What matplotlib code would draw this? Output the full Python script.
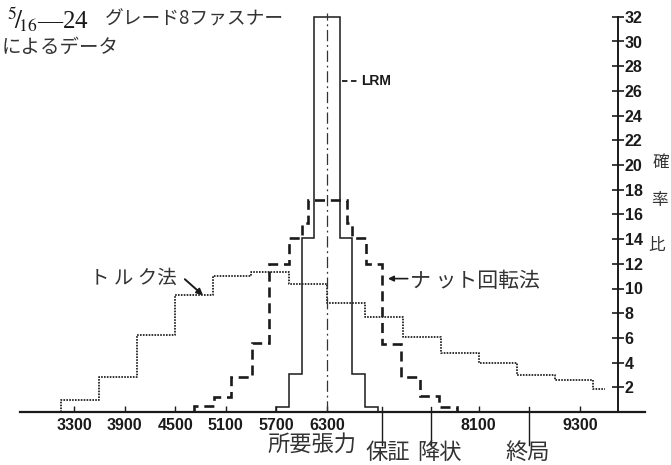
import matplotlib

matplotlib.use("Agg")
import matplotlib.pyplot as plt

W, H = 671, 465

# probability ratio per tension class (lbf), 5/16-24 grade 8
torque_edges = [3150, 3600, 4050, 4500, 4950, 5400, 5850, 6300, 6750, 7200, 7650, 8100, 8550, 9000, 9450, 9600]
torque_ratio = [1.0, 2.8, 6.2, 9.5, 11.0, 11.3, 10.4, 8.8, 7.7, 6.1, 4.8, 4.0, 3.0, 2.6, 1.9]

nut_edges = [4720, 4960, 5160, 5410, 5610, 5850, 6000, 6075, 6535, 6595, 6760, 6950, 7175, 7400, 7625, 7840]
nut_ratio = [0.5, 1.2, 2.8, 5.6, 12.0, 14.1, 15.3, 17.2, 15.3, 14.1, 12.0, 5.5, 2.8, 1.3, 0.4]

lrm_edges = [5700, 5850, 6000, 6150, 6450, 6600, 6750, 6900]
lrm_ratio = [0.4, 3.1, 14.1, 32.0, 14.1, 3.1, 0.4]

required_tension = 6300
x_ticks = [3300, 3900, 4500, 5100, 5700, 6300, 8100, 9300]
y_ticks = list(range(2, 33, 2))
limit_names = ["保証", "降状", "終局"]
limit_values = [6950, 7530, 8690]

INK = "#1a1a1a"
SOFT = "#333333"
CJK = ["Noto Sans CJK JP", "DejaVu Sans"]
SERIF = ["Liberation Serif", "DejaVu Serif"]
NUM = {"family": ["Liberation Sans", "DejaVu Sans"], "weight": "bold", "size": 11.5}

plt.rcParams["mathtext.fontset"] = "stix"


def fpos(x, y):
    return x / W, 1 - y / H


fig = plt.figure(figsize=(W / 100, H / 100), dpi=100)
ax = fig.add_axes([20 / W, 53 / H, 625 / W, 400 / H])
ax.set_xlim(2660, 10071)
ax.set_ylim(0, 400 / 12.35)

for side in ("top", "left"):
    ax.spines[side].set_visible(False)
ax.spines["bottom"].set_linewidth(1.6)
ax.spines["bottom"].set_color(INK)
ax.spines["right"].set_position(("data", 9750))
ax.spines["right"].set_bounds(0, 32)
ax.spines["right"].set_linewidth(1.4)
ax.spines["right"].set_color(INK)

ax.set_xticks(x_ticks)
ax.set_xticklabels([str(v) for v in x_ticks], fontdict=NUM)
ax.set_yticks(y_ticks)
ax.set_yticklabels([str(v) for v in y_ticks], fontdict=NUM)
ax.tick_params(axis="x", direction="in", length=4, width=1.0, pad=4, colors=INK)
ax.tick_params(axis="y", left=False, right=True, labelleft=False, labelright=True,
               direction="inout", length=8, width=1.2, pad=1, colors=INK)

# torque method (dotted), nut rotation (dashed), LRM (solid)
ax.plot([torque_edges[0]] + torque_edges, [0] + torque_ratio + [torque_ratio[-1]],
        drawstyle="steps-post", color="#222222", lw=1.3, ls=(0, (0.9, 0.7)))
ax.stairs(nut_ratio, nut_edges, baseline=0, fill=False, color=INK, lw=1.9,
          linestyle=(0, (3.8, 2.2)))
ax.stairs(lrm_ratio, lrm_edges, baseline=0, fill=False, color=INK, lw=1.1)
ax.plot([required_tension, required_tension], [0, 32.3], color=SOFT, lw=0.9,
        dashes=(9, 3, 1.5, 3))

# LRM tag
ax.plot([6480, 6690], [26.8, 26.8], color=INK, lw=1.3, dashes=(3, 2))
ax.text(6705, 26.8, "LRM", ha="left", va="center", fontsize=10, fontweight="bold",
        family=["Liberation Sans", "DejaVu Sans"], color=INK)

ax.annotate("", xy=(4855, 9.3), xytext=(4590, 10.9),
            arrowprops=dict(arrowstyle="-|>", color=INK, lw=1.4, mutation_scale=9))
ax.text(4010, 10.8, "ト ル ク法", ha="center", va="center", fontsize=14, family=CJK, color=SOFT)

ax.annotate("", xy=(6990, 10.8), xytext=(7290, 10.8),
            arrowprops=dict(arrowstyle="-|>", color=INK, lw=1.2, mutation_scale=8))
ax.text(7285, 10.6, "ナ ット回転法", ha="left", va="center", fontsize=15, family=CJK, color=SOFT)

# strength limits below the axis
for name, val, shift in zip(limit_names, limit_values, [70, 110, -10]):
    ax.plot([val, val], [0.4, -2.7], color=INK, lw=1.0, clip_on=False)
    ax.text(val + shift, -3.25, name, ha="center", va="center", fontsize=16, family=CJK,
            color=SOFT)
ax.text(6120, -2.62, "所要張力", ha="center", va="center", fontsize=16, family=CJK,
        color=SOFT)

for ch, (px, py) in zip("確率比", [(661, 162), (659, 200), (657, 245)]):
    fig.text(*fpos(px, py), ch, ha="center", va="center", fontsize=12, family=CJK,
             color=SOFT)

# heading
fig.text(*fpos(7, 20), r"${}^{5}\!/\!_{16}$—24", ha="left", va="center", fontsize=18,
         family=SERIF, color=INK)
fig.text(*fpos(105, 19), "グレード8ファスナー", ha="left", va="center", fontsize=13.5,
         family=CJK, color=SOFT)
fig.text(*fpos(2, 47), "によるデータ", ha="left", va="center", fontsize=14, family=CJK,
         color=SOFT)

fig.savefig("out.png", dpi=100, facecolor="white")
